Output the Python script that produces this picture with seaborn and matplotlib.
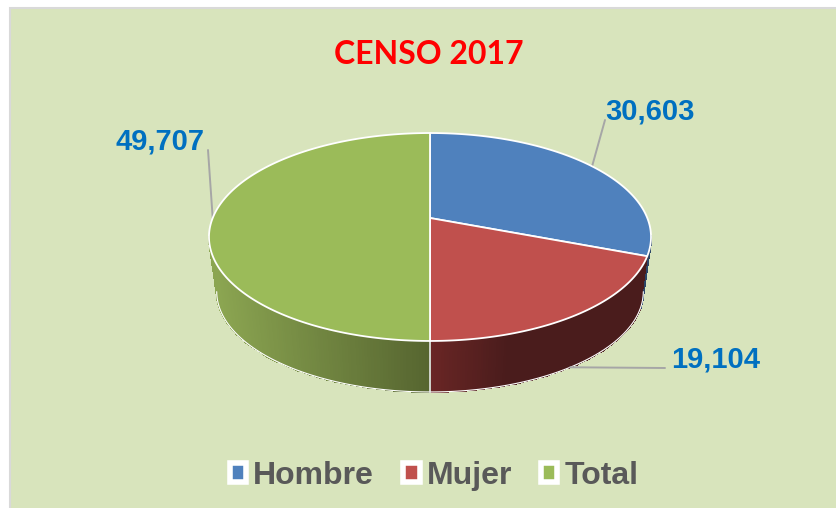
import numpy as np
import matplotlib
matplotlib.use("Agg")
import matplotlib.pyplot as plt
import seaborn as sns
from matplotlib.patches import Patch, Rectangle

categorias = ["Hombre", "Mujer", "Total"]
valores = [30603, 19104, 49707]
titulo = "CENSO 2017"

colores = sns.color_palette(["#4F81BD", "#C0504D", "#9BBB59"])
# side wall shading, (colour at the outer edge, colour at the centre line)
sombras = [("#2A4566", "#2A4566"), ("#4A1C1C", "#6A2625"), ("#8BA551", "#566530")]

FONDO = "#D8E4BC"
AZUL = "#0070C0"
GRIS = "#595959"

# perspective of the disc, in pixels of the 837x508 figure
CX, CY = 430, 218      # apex of the slices
A, B, K = 217.3, 100.5, 0.1827
ESCALA = 0.965         # lower disc is a bit smaller
CY_BASE = 273.3
# where the rim turns away from the viewer
T_DER = np.arccos(-K)
T_IZQ = 2 * np.pi - T_DER


def proyectar(theta, base=False):
    """theta in radians, clockwise from the top of the disc."""
    w = 1 + K * np.cos(theta)
    esc = ESCALA if base else 1.0
    y0 = CY_BASE if base else CY
    return CX + esc * A * np.sin(theta) / w, y0 - esc * B * np.cos(theta) / w


def pared(ax, t1, t2, borde, centro):
    theta = np.linspace(t1, t2, 120)
    x1, y1 = proyectar(theta)
    x2, y2 = proyectar(theta, base=True)
    X = np.vstack([x1, x2])
    Y = np.vstack([y1, y2])
    c_borde, c_centro = np.array(matplotlib.colors.to_rgb(borde)), np.array(matplotlib.colors.to_rgb(centro))
    # shade runs with the horizontal distance from the centre line
    f = np.clip(np.abs(x1[:-1] - CX) / 215, 0, 1)
    if borde == sombras[1][0]:
        f = np.clip(f / 0.37, 0, 1)
    C = (c_centro[None, :] * (1 - f[:, None]) + c_borde[None, :] * f[:, None])[None, :, :]
    ax.pcolormesh(X, Y, C, shading="flat", edgecolors="face", linewidth=0.3, zorder=2)
    visible = (theta >= T_DER) & (theta <= T_IZQ)
    ax.plot(x2[visible], y2[visible], color="white", lw=0.8, zorder=3)


sns.set_theme(style="white")
fig, ax = plt.subplots(figsize=(8.37, 5.08), dpi=100)
ax.set_position([0, 0, 1, 1])
ax.set_xlim(0, 837)
ax.set_ylim(508, 0)
ax.axis("off")

# panel with the grey border on the left and top
ax.add_patch(Rectangle((10, 8), 840, 520, facecolor=FONDO, edgecolor="#D9D9D9", lw=1.5, zorder=0))

fracciones = np.array(valores) / sum(valores)
cortes = np.concatenate([[0], np.cumsum(fracciones)]) * 2 * np.pi

# side walls first, the top is drawn over what should not show
limites = [(T_DER - 0.02, cortes[1]), (cortes[1], cortes[2]), (cortes[2], T_IZQ)]
for (t1, t2), (borde, centro) in zip(limites, sombras):
    pared(ax, t1, t2, borde, centro)

x1, y1 = proyectar(np.pi)
x2, y2 = proyectar(np.pi, base=True)
ax.plot([x1, x2], [y1, y2], color="#E6E6E6", lw=1.2, zorder=3)

# top of the pie
for i in range(3):
    theta = np.linspace(cortes[i], cortes[i + 1], 200)
    x, y = proyectar(theta)
    ax.fill(np.r_[CX, x], np.r_[CY, y], facecolor=colores[i], edgecolor="white",
            lw=1.3, joinstyle="round", zorder=4)

# data labels with leader lines
pos_etiquetas = [(650, 111), (716, 359), (160, 141)]
pos_lineas = [(605, 120), (665, 368), (208, 150)]
for i, v in enumerate(valores):
    medio = (cortes[i] + cortes[i + 1]) / 2
    px, py = proyectar(medio, base=(i == 1))
    ax.plot([px, pos_lineas[i][0]], [py, pos_lineas[i][1]], color="#A6A6A6", lw=1.4, zorder=3)
    ax.text(*pos_etiquetas[i], f"{v:,}", color=AZUL, fontsize=21, fontweight="bold",
            family="Liberation Sans", ha="center", va="center", zorder=5)

ax.text(429, 54, titulo, color="#FF0000", fontsize=23, fontweight="bold", family="Lato",
        ha="center", va="center", zorder=5)

handles = [Patch(facecolor=c, edgecolor="white", lw=4, joinstyle="round") for c in colores]
leg = ax.legend(handles, categorias, loc="center", bbox_to_anchor=(434, 476),
                bbox_transform=ax.transData, ncol=3, frameon=False,
                prop={"family": "Liberation Sans", "weight": "bold", "size": 23},
                labelcolor=GRIS, handlelength=0.52, handleheight=0.52,
                handletextpad=0.22, columnspacing=0.9, borderpad=0)
leg.set_zorder(6)

fig.savefig("out.png", dpi=100)
